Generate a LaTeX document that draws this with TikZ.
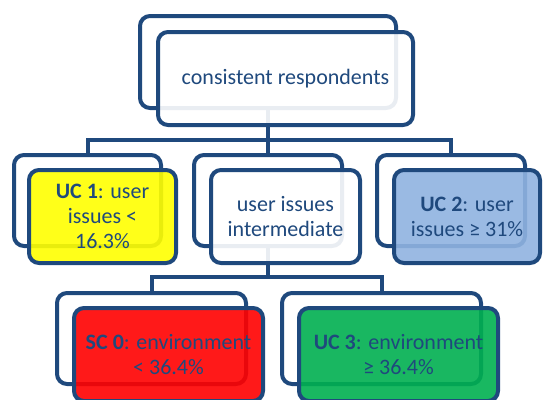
\documentclass[tikz,border=0pt]{standalone}
\usepackage{fontspec}
\setmainfont{Carlito}
\definecolor{navy}{RGB}{31,73,125}
\definecolor{ucyellow}{RGB}{255,255,0}
\definecolor{ucblue}{RGB}{144,179,224}
\definecolor{scred}{RGB}{255,0,0}
\definecolor{ucgreen}{RGB}{0,176,80}
\begin{document}
\begin{tikzpicture}[x=1pt,y=-1pt,
  backbox/.style={draw=navy, line width=4pt, rounded corners=10pt, fill=white,
    inner sep=0pt},
  frontbox/.style={draw=navy, line width=4pt, rounded corners=10pt,
    fill opacity=0.9, text opacity=1, inner sep=0pt, align=center,
    text=navy, font=\fontsize{22}{25}\selectfont},
  conn/.style={draw=navy, line width=4pt}]
\useasboundingbox (0,0) rectangle (543,399);

% back frames
\node[backbox, minimum width=256, minimum height=92] (b0) at (268,62) {};
\node[backbox, minimum width=147, minimum height=91] (b1) at (87.5,200.5) {};
\node[backbox, minimum width=148, minimum height=91] (b2) at (268,200.5) {};
\node[backbox, minimum width=148, minimum height=91] (b3) at (451,200.5) {};
\node[backbox, minimum width=189, minimum height=91] (b4) at (151.5,338.5) {};
\node[backbox, minimum width=199, minimum height=91] (b5) at (381.5,338.5) {};

% tree connectors
\coordinate (j1) at (268,140);
\coordinate (j2) at (268,277);
\draw[conn] (b0.south) -- (j1);
\draw[conn] (j1) -| (b1.north);
\draw[conn] (j1) -| (b3.north);
\draw[conn] (j1) -- (b2.north);
\draw[conn] (b2.south) -- (j2);
\draw[conn] (j2) -| (b4.north);
\draw[conn] (j2) -| (b5.north);

% front panels with labels
\node[frontbox, fill=white, minimum width=255, minimum height=93] (f0) at (285.5,78.5)
  {consistent respondents};
\node[frontbox, fill=ucyellow, minimum width=147, minimum height=93] (f1) at (102.5,216.5)
  {\textbf{UC 1}: user\\issues <\\16.3\%};
\node[frontbox, fill=white, minimum width=149, minimum height=93] (f2) at (285.5,216.5)
  {user issues\\intermediate};
\node[frontbox, fill=ucblue, minimum width=146, minimum height=93] (f3) at (467,216.5)
  {\textbf{UC 2}: user\\issues ≥ 31\%};
\node[frontbox, fill=scred, minimum width=189, minimum height=93] (f4) at (168.5,354.5)
  {\textbf{SC 0}: environment\\< 36.4\%};
\node[frontbox, fill=ucgreen, minimum width=199, minimum height=93] (f5) at (398.5,354.5)
  {\textbf{UC 3}: environment\\≥ 36.4\%};
\end{tikzpicture}
\end{document}
